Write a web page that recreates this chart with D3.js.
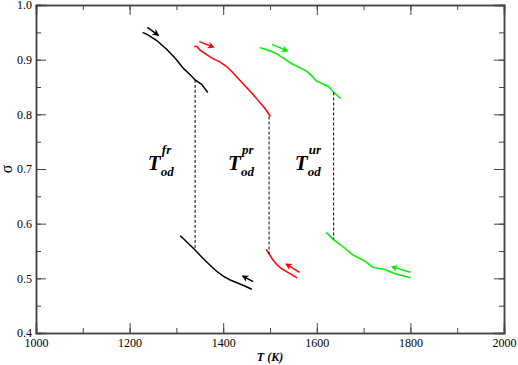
<!DOCTYPE html>
<html>
<head>
<meta charset="utf-8">
<script src="https://cdn.jsdelivr.net/npm/d3@7"></script>
<style>
  body { margin: 0; background: #fff; }
  svg text { font-family: "Liberation Serif", "DejaVu Serif", serif !important; }
</style>
</head>
<body>
<svg width="518" height="365"></svg>
<script>
// значения кривых (T, sigma)
const blackUpT = [1228, 1240, 1258, 1279, 1298, 1315, 1330, 1340, 1354, 1360, 1367];
const blackUpS = [0.950, 0.945, 0.935, 0.919, 0.902, 0.884, 0.872, 0.863, 0.855, 0.848, 0.840];
const blackLoT = [1308, 1318, 1340, 1355, 1372, 1386, 1400, 1415, 1432, 1446, 1461];
const blackLoS = [0.578, 0.570, 0.552, 0.538, 0.524, 0.513, 0.504, 0.497, 0.491, 0.486, 0.480];
const redUpT = [1338, 1344, 1350, 1360, 1372, 1382, 1393, 1408, 1422, 1436, 1450, 1462, 1474, 1489, 1501];
const redUpS = [0.924, 0.924, 0.918, 0.912, 0.905, 0.900, 0.896, 0.887, 0.875, 0.862, 0.849, 0.838, 0.826, 0.811, 0.796];
const redLoT = [1492, 1498, 1506, 1515, 1524, 1540, 1558];
const redLoS = [0.553, 0.545, 0.534, 0.525, 0.518, 0.510, 0.501];
const greenUpT = [1478, 1490, 1503, 1514, 1524, 1535, 1546, 1562, 1578, 1590, 1599, 1612, 1625, 1637, 1651];
const greenUpS = [0.922, 0.919, 0.915, 0.911, 0.905, 0.899, 0.893, 0.886, 0.879, 0.870, 0.861, 0.856, 0.851, 0.840, 0.829];
const greenLoT = [1620, 1637, 1660, 1677, 1702, 1720, 1745, 1766, 1800];
const greenLoS = [0.584, 0.570, 0.555, 0.543, 0.532, 0.520, 0.516, 0.509, 0.501];

// стрелки: [T0, s0, T1, s1]
const arrowsBlack = [[1238, 0.959, 1261, 0.945], [1464, 0.494, 1442, 0.504]];
const arrowsRed = [[1349, 0.933, 1379, 0.923], [1563, 0.511, 1535, 0.526]];
const arrowsGreen = [[1504, 0.928, 1537, 0.916], [1800, 0.511, 1761, 0.521]];

// пунктир: [T, s_top, s_bottom]
const dashLines = [[1340, 0.863, 0.552], [1498, 0.796, 0.545], [1636, 0.840, 0.571]];

// подписи T_od^...: [T, sigma, superscript]
const labels = [[1239, 0.698, "fr"], [1410, 0.698, "pr"], [1553, 0.698, "ur"]];

const xTicks = [1000, 1200, 1400, 1600, 1800, 2000];
const yTicks = [0.4, 0.5, 0.6, 0.7, 0.8, 0.9, 1.0];

const svg = d3.select("svg");
const area = { left: 36, top: 5, width: 468, height: 328 };

const scX = d3.scaleLinear().domain([1000, 2000]).range([0, area.width]);
const scY = d3.scaleLinear().domain([0.4, 1.0]).range([area.height, 0]);

const g = svg.append("g").attr("transform", `translate(${area.left}, ${area.top})`);

// маркеры стрелок
const defs = svg.append("defs");
[["black", "#000"], ["red", "#ff0000"], ["green", "#00ee00"]].forEach(([id, c]) => {
  defs.append("marker")
    .attr("id", "arr-" + id)
    .attr("viewBox", "0 0 10 10")
    .attr("refX", 8).attr("refY", 5)
    .attr("markerWidth", 7).attr("markerHeight", 7)
    .attr("markerUnits", "userSpaceOnUse")
    .attr("orient", "auto")
    .append("path")
    .attr("d", "M0,0 L10,5 L0,10 L3,5 Z")
    .attr("fill", c);
});

// оси (тики внутрь, с зеркалом сверху и справа)
const fmtY = d3.format(".1f");
function axisBox() {
  const minorX = d3.range(1000, 2001, 100);
  const minorY = d3.range(0.4, 1.0001, 0.05);
  g.append("g").attr("transform", `translate(0, ${area.height})`)
    .call(d3.axisBottom(scX).tickValues(minorX).tickSize(-5).tickFormat(""));
  g.append("g").attr("transform", `translate(0, ${area.height})`)
    .call(d3.axisBottom(scX).tickValues(xTicks).tickSize(-10).tickPadding(5).tickFormat(d3.format("d")));
  g.append("g")
    .call(d3.axisTop(scX).tickValues(minorX).tickSize(-5).tickFormat(""));
  g.append("g")
    .call(d3.axisTop(scX).tickValues(xTicks).tickSize(-10).tickFormat(""));
  g.append("g")
    .call(d3.axisLeft(scY).tickValues(minorY).tickSize(-5).tickFormat(""));
  g.append("g")
    .call(d3.axisLeft(scY).tickValues(yTicks).tickSize(-10).tickPadding(4).tickFormat(fmtY));
  g.append("g").attr("transform", `translate(${area.width}, 0)`)
    .call(d3.axisRight(scY).tickValues(minorY).tickSize(-5).tickFormat(""));
  g.append("g").attr("transform", `translate(${area.width}, 0)`)
    .call(d3.axisRight(scY).tickValues(yTicks).tickSize(-10).tickFormat(""));

  g.selectAll(".domain").attr("stroke", "#444").attr("stroke-width", 1.5);
  g.selectAll(".tick line").attr("stroke", "#444").attr("stroke-width", 1);
  g.selectAll(".tick text").attr("font-size", 12).attr("fill", "#000");
}
axisBox();

const line = d3.line().x(d => scX(d[0])).y(d => scY(d[1]));

function curve(T, S, color) {
  g.append("path")
    .datum(T.map((t, i) => [t, S[i]]))
    .attr("d", line)
    .attr("fill", "none")
    .attr("stroke", color)
    .attr("stroke-width", 1.5);
}

curve(blackUpT, blackUpS, "#000");
curve(blackLoT, blackLoS, "#000");
curve(redUpT, redUpS, "#ff0000");
curve(redLoT, redLoS, "#ff0000");
curve(greenUpT, greenUpS, "#00ee00");
curve(greenLoT, greenLoS, "#00ee00");

// пунктирные линии
g.selectAll(".dash")
  .data(dashLines)
  .enter()
  .append("line")
  .attr("x1", d => scX(d[0])).attr("x2", d => scX(d[0]))
  .attr("y1", d => scY(d[1])).attr("y2", d => scY(d[2]))
  .attr("stroke", "#000")
  .attr("stroke-width", 1)
  .attr("stroke-dasharray", "3,2");

function arrows(data, color, id) {
  g.selectAll(".arr-" + id)
    .data(data)
    .enter()
    .append("line")
    .attr("x1", d => scX(d[0])).attr("y1", d => scY(d[1]))
    .attr("x2", d => scX(d[2])).attr("y2", d => scY(d[3]))
    .attr("stroke", color)
    .attr("stroke-width", 1.5)
    .attr("marker-end", `url(#arr-${id})`);
}
arrows(arrowsBlack, "#000", "black");
arrows(arrowsRed, "#ff0000", "red");
arrows(arrowsGreen, "#00ee00", "green");

// подписи T_od
labels.forEach(d => {
  const x = scX(d[0]), y = scY(d[1]);
  g.append("text")
    .attr("x", x).attr("y", y)
    .attr("font-weight", "bold").attr("font-style", "italic")
    .attr("font-size", 21).text("T");
  g.append("text")
    .attr("x", x + 14).attr("y", y - 16)
    .attr("font-weight", "bold").attr("font-style", "italic")
    .attr("font-size", 13).text(d[2]);
  g.append("text")
    .attr("x", x + 13).attr("y", y + 6)
    .attr("font-weight", "bold").attr("font-style", "italic")
    .attr("font-size", 13).text("od");
});

// подписи осей
svg.append("text")
  .attr("x", area.left + area.width / 2)
  .attr("y", 361)
  .attr("text-anchor", "middle")
  .attr("font-weight", "bold").attr("font-style", "italic")
  .attr("font-size", 12)
  .text("T (K)");

svg.append("text")
  .attr("transform", `translate(12, ${scY(0.7) + area.top}) rotate(-90)`)
  .attr("text-anchor", "middle")
  .attr("font-size", 16)
  .text("σ");
</script>
</body>
</html>
